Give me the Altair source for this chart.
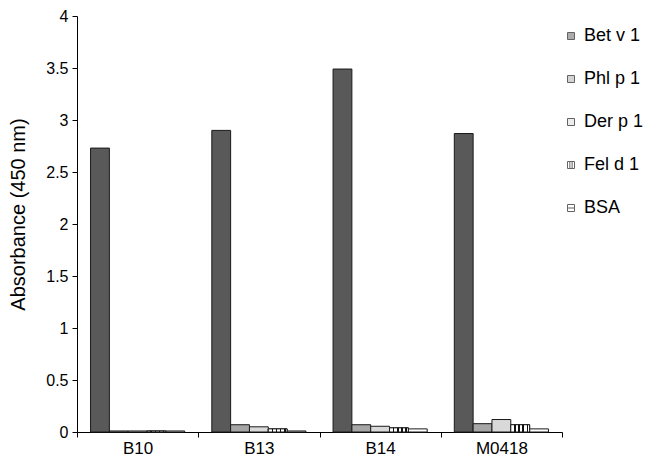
import altair as alt
import pandas as pd

samples = ["B10", "B13", "B14", "M0418"]
series = ["Bet v 1", "Phl p 1", "Der p 1", "Fel d 1", "BSA"]
bet_v1 = [2.73, 2.90, 3.49, 2.87]
phl_p1 = [0.01, 0.07, 0.07, 0.08]
der_p1 = [0.01, 0.05, 0.055, 0.12]
fel_d1 = [0.01, 0.03, 0.04, 0.07]
bsa = [0.01, 0.01, 0.03, 0.03]
fills = ["#595959", "#a6a6a6", "#d9d9d9", "#ffffff", "#ffffff"]
shapes = [
    "M-1,-1H1V1H-1Z",
    "M-1,-1H1V1H-1Z",
    "M-1,-1H1V1H-1Z",
    "M-1,-1H1V1H-1Z M-0.33,-1V1 M0.33,-1V1",
    "M-1,-1H1V1H-1Z M-1,0H1",
]
y_ticks = [0, 0.5, 1, 1.5, 2, 2.5, 3, 3.5, 4]

rows = []
for s, vals in zip(series, [bet_v1, phl_p1, der_p1, fel_d1, bsa]):
    for smp, v in zip(samples, vals):
        rows.append({"sample": smp, "series": s, "value": v})
df = pd.DataFrame(rows)

FONT = "Liberation Sans"

x_enc = alt.X(
    "sample:N",
    sort=samples,
    title=None,
    scale=alt.Scale(paddingInner=0, paddingOuter=0),
    axis=alt.Axis(
        labelAngle=0,
        tickBand="extent",
        tickSize=5,
        labelPadding=3,
        labelFontSize=17,
        labelFont=FONT,
        labelColor="black",
        domainColor="black",
        tickColor="black",
        grid=False,
    ),
)
xo_enc = alt.XOffset(
    "series:N",
    sort=series,
    scale=alt.Scale(domain=series, paddingInner=0, paddingOuter=0.72),
)
y_enc = alt.Y(
    "value:Q",
    title="Absorbance (450 nm)",
    scale=alt.Scale(domain=[0, 4], nice=False),
    axis=alt.Axis(
        values=y_ticks,
        format="~g",
        tickSize=5,
        labelPadding=4,
        labelFontSize=16,
        labelFont=FONT,
        labelColor="black",
        titleFont=FONT,
        titleFontSize=20,
        titleFontWeight="normal",
        titleColor="black",
        titleX=-49,
        titleY=198,
        domainColor="black",
        tickColor="black",
        grid=False,
    ),
)
fill_enc = alt.Fill(
    "series:N",
    sort=series,
    scale=alt.Scale(domain=series, range=fills),
    legend=alt.Legend(
        title=None,
        orient="none",
        legendX=485,
        legendY=11,
        padding=0,
        symbolSize=49,
        symbolStrokeColor="#222222",
        symbolStrokeWidth=1,
        symbolOpacity=1,
        labelFontSize=18,
        labelFont=FONT,
        labelColor="black",
        labelOffset=4,
        rowPadding=25,
    ),
)

bars = alt.Chart(df).mark_bar(stroke="#1a1a1a", strokeWidth=1).encode(
    x=x_enc, xOffset=xo_enc, y=y_enc, fill=fill_enc
)

stripe_stops = [{"offset": 0, "color": "#ffffff"}]
for a in [0.18, 0.40, 0.62, 0.84]:
    stripe_stops += [
        {"offset": a, "color": "#ffffff"},
        {"offset": a, "color": "#111111"},
        {"offset": a + 0.08, "color": "#111111"},
        {"offset": a + 0.08, "color": "#ffffff"},
    ]
stripe_stops.append({"offset": 1, "color": "#ffffff"})

fel = (
    alt.Chart(df)
    .transform_filter(alt.datum.series == "Fel d 1")
    .mark_bar(
        fill={"gradient": "linear", "x1": 0, "y1": 0, "x2": 1, "y2": 0, "stops": stripe_stops},
        stroke="#1a1a1a",
        strokeWidth=1,
    )
    .encode(x=x_enc, xOffset=xo_enc, y=y_enc)
)

legend_pts = alt.Chart(df).mark_point(
    size=0, filled=True, stroke="#222222", strokeWidth=1
).encode(
    x=x_enc,
    xOffset=xo_enc,
    y=y_enc,
    fill=fill_enc,
    shape=alt.Shape(
        "series:N",
        sort=series,
        scale=alt.Scale(domain=series, range=shapes),
        legend=alt.Legend(title=None),
    ),
)

chart = (
    alt.layer(bars, fel, legend_pts)
    .properties(
        width=485,
        height=416,
        autosize=alt.AutoSizeParams(type="none"),
        padding={"left": 69, "top": 8, "right": 85, "bottom": 28},
        background="white",
    )
    .configure_view(stroke=None)
)

chart.save("out.html", embed_options={"renderer": "svg", "actions": False})
